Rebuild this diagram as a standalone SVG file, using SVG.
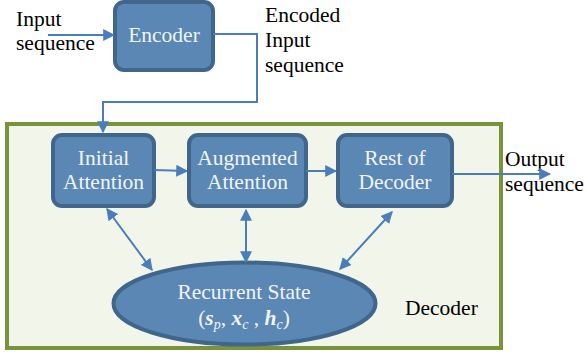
<svg xmlns="http://www.w3.org/2000/svg" width="585" height="353" viewBox="0 0 585 353">
<style>
text{font-family:'Liberation Serif','Times New Roman','DejaVu Serif',serif;font-size:21.5px}
.t{fill:#000}
.w{fill:#F2F4F8;text-anchor:middle}
.box{fill:#5A87B3;stroke:#41668C;stroke-width:4}
.ln{fill:none;stroke:#4A7EBB;stroke-width:2}
.m{font-style:italic;font-weight:bold}
.s{font-style:italic;font-size:14px}
</style>
<defs>
<marker id="ah" viewBox="0 0 10 10" refX="9" refY="5" markerWidth="6" markerHeight="6" orient="auto-start-reverse" markerUnits="strokeWidth">
<path d="M0,0 L10,5 L0,10 z" fill="#4A7EBB"/>
</marker>
</defs>
<rect x="0" y="0" width="585" height="353" fill="#fff"/>
<g id="decoder">
<rect x="7" y="124" width="494" height="224" fill="#F1F5EA" stroke="#77933C" stroke-width="4"/>
<text class="t" x="405" y="315" font-family="Liberation Serif, serif">Decoder</text>
</g>
<g id="input-label"><text class="t" x="16" y="26" font-family="Liberation Serif, serif">Input</text><text class="t" x="16" y="50" font-family="Liberation Serif, serif">sequence</text></g>
<g id="encoded-label"><text class="t" x="265" y="22" font-family="Liberation Serif, serif">Encoded</text><text class="t" x="265" y="47" font-family="Liberation Serif, serif">Input</text><text class="t" x="265" y="72" font-family="Liberation Serif, serif">sequence</text></g>
<g id="output-label"><text class="t" x="505" y="166" font-family="Liberation Serif, serif">Output</text><text class="t" x="505" y="191" font-family="Liberation Serif, serif">sequence</text></g>
<g id="encoder">
<rect class="box" x="115" y="2" width="98" height="68" rx="9"/>
<text class="w" x="164" y="42" font-family="Liberation Serif, serif">Encoder</text>
</g>
<g id="initial-attention">
<rect class="box" x="53" y="135" width="101" height="71" rx="9"/>
<text class="w" x="103.5" y="165" font-family="Liberation Serif, serif">Initial</text><text class="w" x="103.5" y="189" font-family="Liberation Serif, serif">Attention</text>
</g>
<g id="augmented-attention">
<rect class="box" x="189" y="135" width="117" height="71" rx="9"/>
<text class="w" x="247.5" y="165" font-family="Liberation Serif, serif">Augmented</text><text class="w" x="247.5" y="189" font-family="Liberation Serif, serif">Attention</text>
</g>
<g id="rest-of-decoder">
<rect class="box" x="338" y="135" width="114" height="71" rx="9"/>
<text class="w" x="395" y="165" font-family="Liberation Serif, serif">Rest of</text><text class="w" x="395" y="189" font-family="Liberation Serif, serif">Decoder</text>
</g>
<g id="recurrent-state">
<ellipse cx="244.5" cy="303.5" rx="131" ry="41" fill="#5A87B3" stroke="#41668C" stroke-width="4"/>
<text class="w" x="244" y="299" font-family="Liberation Serif, serif">Recurrent State</text>
<text class="w" x="244" y="325" font-family="Liberation Serif, serif">(<tspan class="m">s</tspan><tspan class="s" dy="4">p</tspan><tspan dy="-4">, </tspan><tspan class="m">x</tspan><tspan class="s" dy="4">c</tspan><tspan dy="-4"> , </tspan><tspan class="m">h</tspan><tspan class="s" dy="4">c</tspan><tspan dy="-4">)</tspan></text>
</g>
<g id="connectors">
<line class="ln" x1="48" y1="35" x2="114" y2="35" marker-end="url(#ah)"/>
<polyline class="ln" points="213,34 257,34 257,102 103,102 103,132" marker-end="url(#ah)"/>
<line class="ln" x1="154" y1="170" x2="187" y2="171" marker-end="url(#ah)"/>
<line class="ln" x1="306" y1="171" x2="336" y2="171" marker-end="url(#ah)"/>
<line class="ln" x1="452" y1="174" x2="550" y2="174" marker-end="url(#ah)"/>
<line class="ln" x1="107" y1="209" x2="152" y2="270" marker-start="url(#ah)" marker-end="url(#ah)"/>
<line class="ln" x1="246" y1="210" x2="246" y2="262" marker-start="url(#ah)" marker-end="url(#ah)"/>
<line class="ln" x1="392" y1="212" x2="340" y2="269" marker-start="url(#ah)" marker-end="url(#ah)"/>
</g>
</svg>
